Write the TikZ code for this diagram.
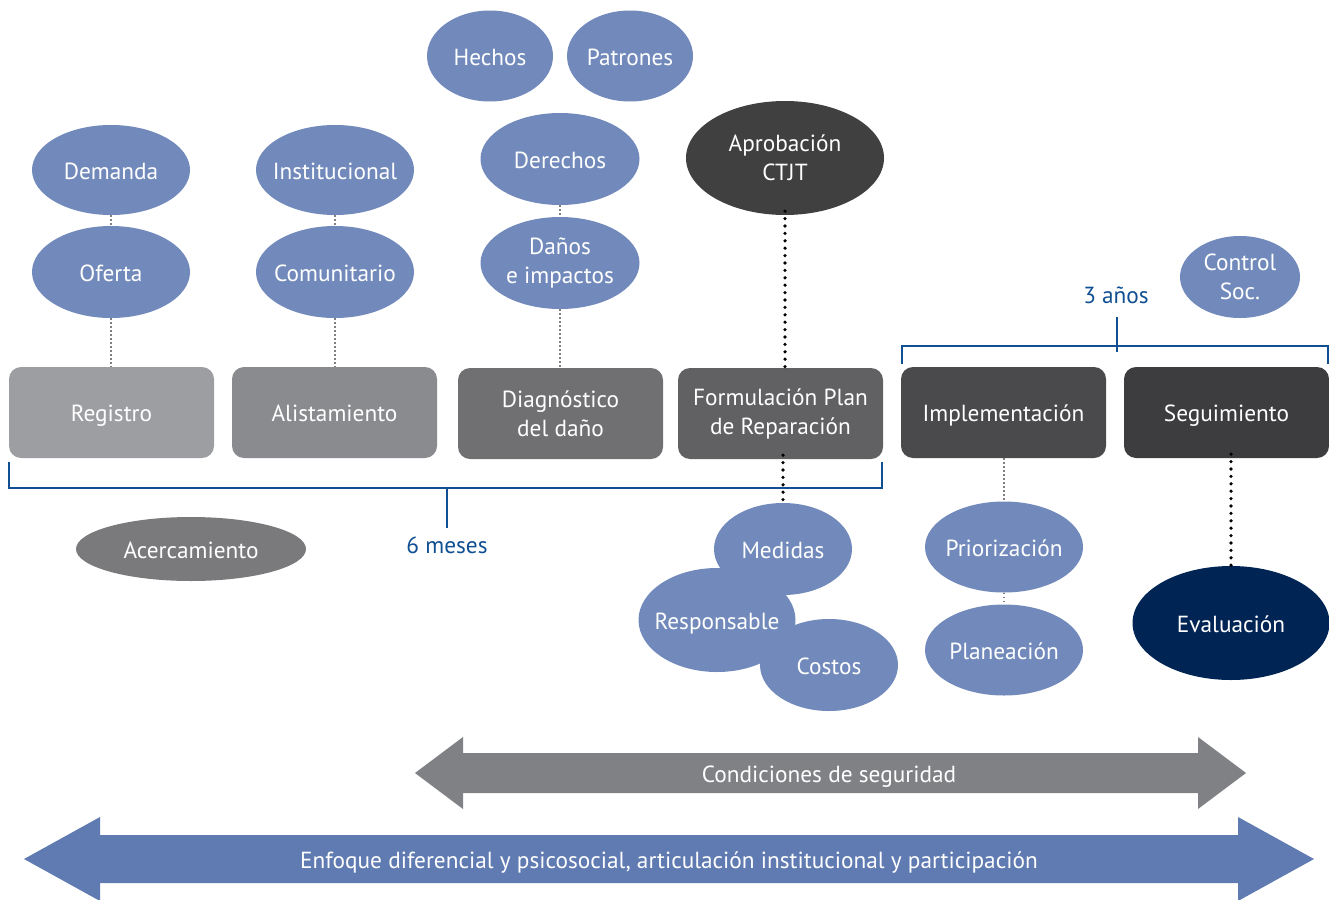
\documentclass[tikz,border=0pt]{standalone}
\usepackage{fontspec}
\setmainfont{PT Sans}
\usetikzlibrary{shapes.geometric}
\definecolor{softblue}{RGB}{114,138,187}
\definecolor{bandblue}{RGB}{95,123,178}
\definecolor{linkblue}{RGB}{16,79,146}
\definecolor{darkoval}{RGB}{64,64,65}
\definecolor{navy}{RGB}{0,37,84}
\definecolor{ovalgray}{RGB}{122,122,124}
\definecolor{bandgray}{RGB}{128,129,132}
\definecolor{dotgray}{RGB}{128,128,130}
\tikzset{
  oneline/.style={text height=18pt, text depth=0pt},
  oval/.style={ellipse, fill=softblue, text=white, inner xsep=-16pt, inner ysep=-10pt,
    align=center, font=\fontsize{23.3}{29}\selectfont},
  stagebox/.style={rounded corners=12pt, text=white, minimum width=205pt,
    minimum height=91pt, inner sep=0pt, align=center,
    font=\fontsize{23.3}{29}\selectfont},
  softlink/.style={draw=dotgray, line width=2pt, dash pattern=on 1.6pt off 2.4pt},
  hardlink/.style={draw=black, line width=3.6pt, line cap=round, dash pattern=on 0pt off 7.4pt},
  span/.style={draw=linkblue, line width=2.4pt},
  spanlabel/.style={text=linkblue, oneline, font=\fontsize{23.3}{29}\selectfont},
  bandtext/.style={text=white, oneline, font=\fontsize{23.3}{29}\selectfont}
}
\begin{document}
\begin{tikzpicture}[x=1pt,y=-1pt]
\useasboundingbox (0,0) rectangle (1329,899);

% stage boxes
\node[stagebox, oneline, fill={rgb,255:red,157;green,158;blue,162}] (reg) at (111.5,412.5) {Registro};
\node[stagebox, oneline, fill={rgb,255:red,138;green,139;blue,143}] (ali) at (334.5,412.5) {Alistamiento};
\node[stagebox, fill={rgb,255:red,112;green,112;blue,115}] (dia) at (560.5,413.5) {Diagnóstico\\del daño};
\node[stagebox, fill={rgb,255:red,97;green,97;blue,99}] (for) at (780.5,413.5) {Formulación Plan\\de Reparación};
\node[stagebox, oneline, fill={rgb,255:red,74;green,74;blue,76}] (imp) at (1003.5,412.5) {Implementación};
\node[stagebox, oneline, fill={rgb,255:red,61;green,61;blue,63}] (seg) at (1226.5,412.5) {Seguimiento};

% ovals above the stages
\node[oval, oneline, minimum width=158pt, minimum height=90pt] (dem) at (111,170) {Demanda};
\node[oval, oneline, minimum width=158pt, minimum height=92pt] (ofe) at (111,272) {Oferta};
\node[oval, oneline, minimum width=158pt, minimum height=90pt] (ins) at (335,170) {Institucional};
\node[oval, oneline, minimum width=158pt, minimum height=92pt] (com) at (335,272) {Comunitario};
\node[oval, oneline, minimum width=126pt, minimum height=91pt] (hec) at (490,56) {Hechos};
\node[oval, oneline, minimum width=126pt, minimum height=91pt] (pat) at (630,56) {Patrones};
\node[oval, oneline, minimum width=159pt, minimum height=92pt] (der) at (560,159) {Derechos};
\node[oval, minimum width=159pt, minimum height=92pt] (dan) at (560,263) {Daños\\e impactos};
\node[oval, fill=darkoval, minimum width=198pt, minimum height=114pt] (apr) at (785,158) {Aprobación\\CTJT};
\node[oval, minimum width=120pt, minimum height=82pt] (con) at (1240,277) {Control\\Soc.};

% ovals below the stages
\node[oval, oneline, fill=ovalgray, minimum width=230pt, minimum height=64pt] (ace) at (191,549) {Acercamiento};
\node[oval, oneline, minimum width=138pt, minimum height=92pt] (med) at (783,549) {Medidas};
\node[oval, oneline, minimum width=157pt, minimum height=104pt] (res) at (717,620) {Responsable};
\node[oval, oneline, minimum width=138pt, minimum height=92pt] (cos) at (829,665) {Costos};
\node[oval, oneline, minimum width=158pt, minimum height=91pt] (pri) at (1004,547) {Priorización};
\node[oval, oneline, minimum width=158pt, minimum height=91pt] (pla) at (1004,650) {Planeación};
\node[oval, oneline, fill=navy, minimum width=197pt, minimum height=114pt] (eva) at (1231,623) {Evaluación};

% dotted links
\draw[softlink] (dem.south) -- (ofe.north);
\draw[softlink] (ofe.south) -- (reg.north -| ofe.south);
\draw[softlink] (ins.south) -- (com.north);
\draw[softlink] (com.south) -- (ali.north -| com.south);
\draw[softlink] (der.south) -- (dan.north);
\draw[softlink] (dan.south) -- (dia.north -| dan.south);
\draw[hardlink] ([yshift=4pt]apr.south) -- ([yshift=-4pt]for.north -| apr.south);
\draw[hardlink] ([yshift=4pt]for.south -| med.north) -- (med.north);
\draw[softlink] (imp.south -| pri.north) -- (pri.north);
\draw[softlink] (pri.south) -- (pla.north);
\draw[hardlink] ([yshift=4pt]seg.south -| eva.north) -- (eva.north);

% time spans
\coordinate (s1a) at (9,462);
\coordinate (s1b) at (882,462);
\coordinate (s1m) at (447,488);
\draw[span] (s1a) -- (9,488) -- (882,488) -- (s1b);
\draw[span] (s1m) -- (447,528);
\node[spanlabel] (six) at (447,544) {6 meses};

\coordinate (s2a) at (902,364);
\coordinate (s2b) at (1328,364);
\draw[span] (s2a) -- (902,346) -- (1328,346) -- (s2b);
\draw[span] (1117,317) -- (1117,352);
\node[spanlabel] (three) at (1116,294) {3 años};

% cross-cutting bands
\fill[bandgray] (415,773) -- (463,737) -- (463,753) -- (1198,753) -- (1198,737)
  -- (1246,773) -- (1198,809) -- (1198,793) -- (463,793) -- (463,809) -- cycle;
\node[bandtext] (cond) at (829,773) {Condiciones de seguridad};

\fill[bandblue] (24,859) -- (100,817) -- (100,835) -- (1238,835) -- (1238,817)
  -- (1314,859) -- (1238,901) -- (1238,883) -- (100,883) -- (100,901) -- cycle;
\node[bandtext] (enf) at (669,859) {Enfoque diferencial y psicosocial, articulación institucional y participación};
\end{tikzpicture}
\end{document}
